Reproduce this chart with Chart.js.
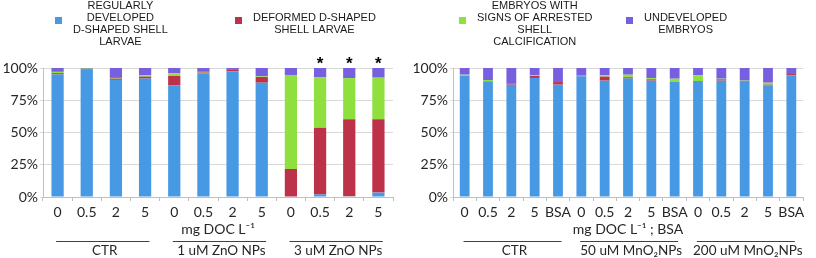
<!DOCTYPE html>
<html>
<head>
<meta charset="utf-8">
<script src="https://cdn.jsdelivr.net/npm/chart.js@4/dist/chart.umd.min.js"></script>
<style>
  html, body { margin: 0; padding: 0; background: #fff; }
  #wrap { position: relative; width: 816px; height: 258px; overflow: hidden; }
  #leftBox { position: absolute; left: 0; top: 0; width: 410px; height: 258px; }
  #rightBox { position: absolute; left: 410px; top: 0; width: 406px; height: 258px; }
</style>
</head>
<body>
<div id="wrap">
  <div id="leftBox"><canvas id="leftChart" width="410" height="258"></canvas></div>
  <div id="rightBox"><canvas id="rightChart" width="406" height="258"></canvas></div>
</div>
<script>
// legend text for the four series (multi-line, as in the figure)
const seriesLabels = [
  ['REGULARLY', 'DEVELOPED', 'D-SHAPED SHELL', 'LARVAE'],
  ['DEFORMED D-SHAPED', 'SHELL LARVAE'],
  ['EMBRYOS WITH', 'SIGNS OF ARRESTED', 'SHELL', 'CALCIFICATION'],
  ['UNDEVELOPED', 'EMBRYOS'],
];
const seriesColors = ['#4799E4', '#BE3249', '#8FE03F', '#775FE0'];

// left panel: ZnO NPs
const leftCategories = ['0', '0.5', '2', '5', '0', '0.5', '2', '5', '0', '0.5', '2', '5'];
const leftGroups = ['CTR', '1 uM ZnO NPs', '3 uM ZnO NPs'];
const leftBlue = [95, 98.5, 90.8, 91.8, 86.6, 96, 97.5, 88.6, 0, 2, 0.5, 3.4];
const leftRed = [1, 0.5, 1, 1.5, 7.2, 0.5, 1.5, 4.4, 21.7, 51.7, 59.7, 56.8];
const leftGreen = [1, 0.5, 0.5, 1, 2.2, 0.5, 0, 0.5, 72.9, 39.3, 32, 32.3];
const leftPurple = [3, 0.5, 7.7, 5.7, 4, 3, 1, 6.5, 5.4, 7, 7.8, 7.5];
const leftStars = ['', '', '', '', '', '', '', '', '', '*', '*', '*'];

// right panel: MnO2 NPs
const rightCategories = ['0', '0.5', '2', '5', 'BSA', '0', '0.5', '2', '5', 'BSA', '0', '0.5', '2', '5', 'BSA'];
const rightGroups = ['CTR', '50 uM MnO\u2082NPs', '200 uM MnO\u2082NPs'];
const rightBlue = [93.8, 89.7, 87.1, 92.3, 87.1, 93.6, 90.2, 91.8, 90.2, 89.1, 89.9, 90.2, 89.2, 86.6, 94.3];
const rightRed = [0, 0, 1, 1.5, 2, 0.5, 3.1, 1, 1, 0, 0, 1, 0.5, 0.5, 1];
const rightGreen = [1, 1, 0, 0.5, 0, 0.2, 1, 2, 1, 2.6, 4.4, 0.5, 0.5, 1.5, 0];
const rightPurple = [5.2, 9.3, 11.9, 5.7, 10.9, 5.7, 5.7, 5.2, 7.8, 8.3, 5.7, 8.3, 9.8, 11.4, 4.7];

const yTicks = [0, 25, 50, 75, 100];

const AXIS_FONT = "Lato, 'Liberation Sans', sans-serif";
const LEGEND_FONT = "'Liberation Sans', Arial, sans-serif";

// draws legend, stars, axis title and the group brackets under the x axis
const extrasPlugin = {
  id: 'extras',
  afterDraw(chart, args, opts) {
    const ctx = chart.ctx;
    const area = chart.chartArea;
    const x = chart.scales.x;
    const y = chart.scales.y;
    ctx.save();

    // legend
    ctx.font = '11px ' + LEGEND_FONT;
    ctx.textBaseline = 'middle';
    opts.legendItems.forEach((idx, k) => {
      const mx = opts.legendX[k];
      ctx.fillStyle = chart.data.datasets[idx].backgroundColor;
      ctx.fillRect(mx, 17, 7, 7);
      const lines = seriesLabels[idx];
      const w = Math.max(...lines.map((l) => ctx.measureText(l).width));
      const cx = mx + 7 + 11 + w / 2;
      const top = 24 - ((lines.length - 1) * 12) / 2;
      ctx.fillStyle = '#1a1a1a';
      ctx.textAlign = 'center';
      lines.forEach((l, i) => ctx.fillText(l, cx, top + i * 12));
    });

    // significance stars
    ctx.font = 'bold 17px ' + LEGEND_FONT;
    ctx.fillStyle = '#000';
    ctx.textAlign = 'center';
    (opts.stars || []).forEach((s, i) => {
      if (s) ctx.fillText(s, x.getPixelForValue(i), y.getPixelForValue(100) - 4);
    });

    // x axis title
    ctx.font = '14px ' + AXIS_FONT;
    ctx.fillStyle = '#262626';
    ctx.fillText(opts.axisTitle, (area.left + area.right) / 2, 229);

    // group lines and names
    ctx.font = '13.5px ' + AXIS_FONT;
    const cat = (x.getPixelForValue(1) - x.getPixelForValue(0));
    const n = opts.groupSize;
    opts.groups.forEach((g, gi) => {
      const x1 = x.getPixelForValue(gi * n) - 0.05 * cat;
      const x2 = x.getPixelForValue(gi * n + n - 1) + 0.15 * cat;
      ctx.strokeStyle = '#404040';
      ctx.lineWidth = 1;
      ctx.beginPath();
      ctx.moveTo(x1, 241.5);
      ctx.lineTo(x2, 241.5);
      ctx.stroke();
      ctx.fillText(g, (x1 + x2) / 2 + 2, 251);
    });
    ctx.restore();
  },
};

function makeChart(canvasId, categories, blue, red, green, purple, cfg) {
  const series = [blue, red, green, purple];
  const ctx = document.getElementById(canvasId).getContext('2d');
  return new Chart(ctx, {
    type: 'bar',
    data: {
      labels: categories,
      datasets: series.map((data, i) => ({
        label: seriesLabels[i].join(' '),
        data: data,
        backgroundColor: seriesColors[i],
        borderWidth: 0,
        barPercentage: 0.42,
        categoryPercentage: 1,
      })),
    },
    options: {
      responsive: false,
      animation: false,
      layout: { padding: { top: 68, right: cfg.padRight, left: 0, bottom: 0 } },
      plugins: {
        legend: { display: false },
        tooltip: { enabled: false },
        extras: cfg,
      },
      scales: {
        x: {
          stacked: true,
          afterFit: (s) => { s.height = 61; },
          grid: { drawOnChartArea: false, drawTicks: true, tickLength: 4, color: '#bfbfbf' },
          border: { color: '#bfbfbf' },
          ticks: {
            autoSkip: false,
            maxRotation: 0,
            padding: 3,
            color: '#262626',
            font: { family: AXIS_FONT, size: 14 },
          },
        },
        y: {
          stacked: true,
          min: 0,
          max: 100,
          afterFit: (s) => { s.width = 43; },
          afterBuildTicks: (s) => { s.ticks = yTicks.map((v) => ({ value: v })); },
          grid: { color: '#d9d9d9', tickLength: 3 },
          border: { color: '#bfbfbf' },
          ticks: {
            padding: 2,
            color: '#262626',
            font: { family: AXIS_FONT, size: 14 },
            callback: (v) => v + '%',
          },
        },
      },
    },
    plugins: [extrasPlugin],
  });
}

window.addEventListener('DOMContentLoaded', () => {
  makeChart('leftChart', leftCategories, leftBlue, leftRed, leftGreen, leftPurple, {
    padRight: 17,
    legendItems: [0, 1],
    legendX: [55, 235],
    stars: leftStars,
    axisTitle: 'mg DOC L\u207B\u00B9',
    groups: leftGroups,
    groupSize: 4,
  });
  makeChart('rightChart', rightCategories, rightBlue, rightRed, rightGreen, rightPurple, {
    padRight: 13,
    legendItems: [2, 3],
    legendX: [49, 216],
    stars: [],
    axisTitle: 'mg DOC L\u207B\u00B9 ; BSA',
    groups: rightGroups,
    groupSize: 5,
  });
});
</script>
</body>
</html>
